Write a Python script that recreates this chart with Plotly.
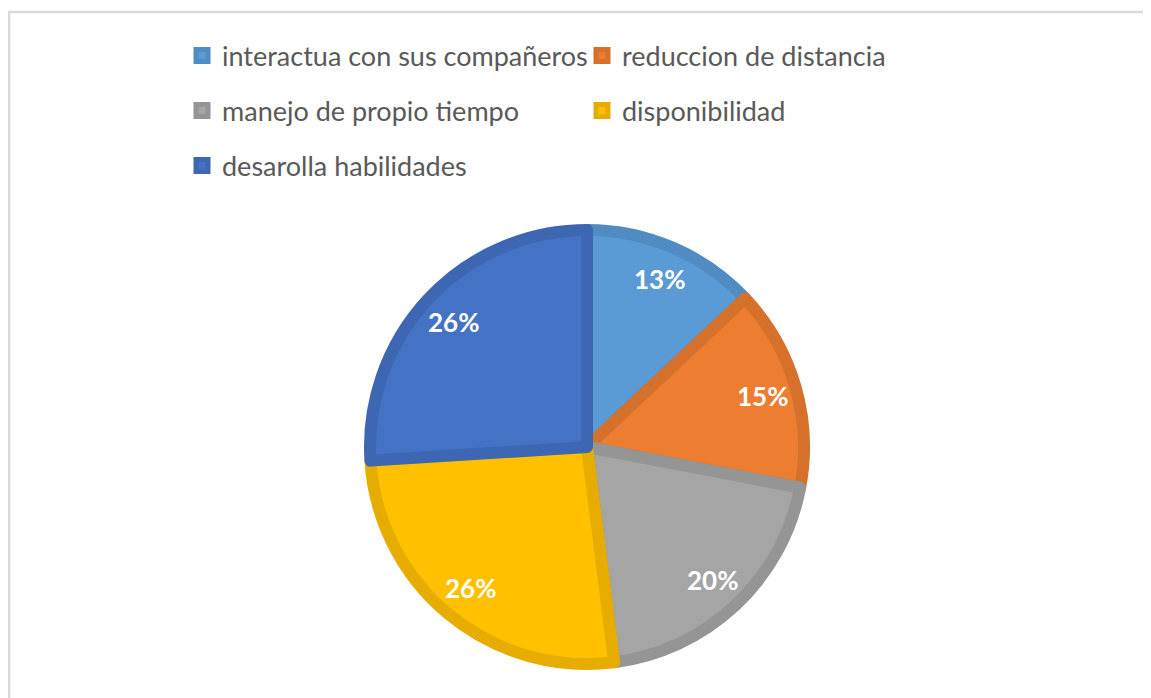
import math
import plotly.graph_objects as go

# page body has an 8px margin, so the figure is sized to the remaining window
W, H = 1143, 690
OFF = 8  # screen offset of the figure

categories = ["interactua con sus compañeros", "reduccion de distancia",
              "manejo de propio tiempo", "disponibilidad", "desarolla habilidades"]
values = [13, 15, 20, 26, 26]
fill_colors = ["#5B9BD5", "#ED7D31", "#A5A5A5", "#FFC000", "#4472C4"]
line_colors = ["#508BC1", "#D6712C", "#959595", "#E6AD00", "#3D67B2"]

# pie geometry (screen pixels)
cx, cy, r, lw = 587 - OFF, 447 - OFF, 217, 12
label_r = 0.82 * (r + lw / 2)

legend_labels = ['<span style="font-size:27px;baseline-shift:5px">%s</span>' % c
                 for c in categories]

fig = go.Figure(go.Pie(
    labels=legend_labels,
    values=values,
    sort=False,
    direction="clockwise",
    rotation=0,
    marker=dict(colors=fill_colors, line=dict(color=line_colors, width=lw)),
    textinfo="none",
    hovertemplate="%{label}: %{percent}<extra></extra>",
    domain=dict(x=[(cx - r) / W, (cx + r) / W],
                y=[(H - cy - r) / H, (H - cy + r) / H]),
))

# percentage labels placed at the middle angle of each slice
total = sum(values)
annotations = []
cum = 0
for v in values:
    mid = (cum + v / 2) / total * 2 * math.pi
    cum += v
    px = cx + label_r * math.sin(mid)
    py = cy - label_r * math.cos(mid)
    annotations.append(dict(
        x=px / W, y=1 - py / H, xref="paper", yref="paper",
        text="%d%%" % round(100 * v / total), showarrow=False,
        font=dict(family="Lato", size=26, color="white", weight="bold"),
        xanchor="center", yanchor="middle"))

fig.update_layout(
    width=W, height=H,
    margin=dict(l=0, r=0, t=0, b=0),
    paper_bgcolor="white",
    plot_bgcolor="white",
    annotations=annotations,
    legend=dict(
        orientation="h",
        x=(182 - OFF) / W, xanchor="left",
        y=1 - (23 - OFF) / H, yanchor="top",
        font=dict(family="Lato", size=40, color="#595959"),
        entrywidth=355,
        entrywidthmode="pixels",
        itemclick=False,
        traceorder="normal",
    ),
    shapes=[dict(type="rect", xref="paper", yref="paper",
                 x0=1 / W, x1=1.05, y0=-0.05, y1=1 - 4 / H,
                 line=dict(color="#D9D9D9", width=2.5), fillcolor="rgba(0,0,0,0)",
                 layer="below")],
)

fig.write_html("out.html")
